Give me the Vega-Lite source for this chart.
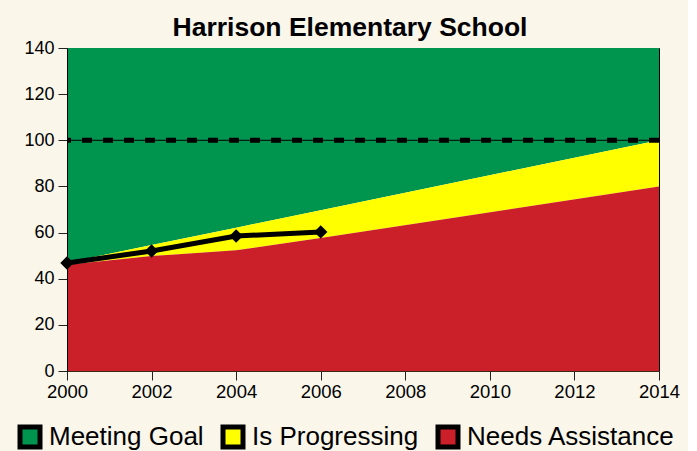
{
  "$schema": "https://vega.github.io/schema/vega-lite/v6.json",
  "width": 592,
  "height": 323,
  "autosize": {"type": "none"},
  "padding": {"left": 67, "top": 48, "right": 29, "bottom": 80},
  "background": "#FAF6EA",
  "title": {
    "text": "Harrison Elementary School",
    "font": "Liberation Sans",
    "fontSize": 26.5,
    "fontWeight": "bold",
    "color": "#000000",
    "anchor": "middle",
    "baseline": "alphabetic",
    "offset": 10,
    "dx": -13,
    "dy": 33
  },
  "datasets": {
    "bands": [
      {"year": 2000, "series": "Meeting Goal", "low": 47, "high": 140},
      {"year": 2002, "series": "Meeting Goal", "low": 54.6, "high": 140},
      {"year": 2004, "series": "Meeting Goal", "low": 62.1, "high": 140},
      {"year": 2006, "series": "Meeting Goal", "low": 69.7, "high": 140},
      {"year": 2014, "series": "Meeting Goal", "low": 100, "high": 140},
      {"year": 2000, "series": "Is Progressing", "low": 46, "high": 47},
      {"year": 2002, "series": "Is Progressing", "low": 49.8, "high": 54.6},
      {"year": 2004, "series": "Is Progressing", "low": 52.3, "high": 62.1},
      {"year": 2006, "series": "Is Progressing", "low": 57.6, "high": 69.7},
      {"year": 2014, "series": "Is Progressing", "low": 80, "high": 100},
      {"year": 2000, "series": "Needs Assistance", "low": 0, "high": 46},
      {"year": 2002, "series": "Needs Assistance", "low": 0, "high": 49.8},
      {"year": 2004, "series": "Needs Assistance", "low": 0, "high": 52.3},
      {"year": 2006, "series": "Needs Assistance", "low": 0, "high": 57.6},
      {"year": 2014, "series": "Needs Assistance", "low": 0, "high": 80}
    ],
    "scores": [
      {"year": 2000, "score": 46.8},
      {"year": 2002, "score": 52},
      {"year": 2004, "score": 58.5},
      {"year": 2006, "score": 60.3}
    ],
    "goal": [{"target": 100}]
  },
  "layer": [
    {
      "data": {"name": "bands"},
      "mark": {"type": "area", "interpolate": "linear", "opacity": 1},
      "encoding": {
        "x": {
          "field": "year",
          "type": "quantitative",
          "scale": {"domain": [2000, 2014], "nice": false, "zero": false},
          "axis": {
            "values": [2000, 2002, 2004, 2006, 2008, 2010, 2012, 2014],
            "format": "d",
            "title": null,
            "grid": false,
            "tickSize": 9,
            "tickColor": "#222222",
            "domainColor": "#3a2a1a",
            "labelFont": "Liberation Sans",
            "labelFontSize": 18.5,
            "labelColor": "#000000",
            "labelPadding": 2,
            "labelFlush": false,
            "zindex": 1
          }
        },
        "y": {
          "field": "low",
          "type": "quantitative",
          "stack": null,
          "scale": {"domain": [0, 140], "nice": false},
          "axis": {
            "values": [0, 20, 40, 60, 80, 100, 120, 140],
            "title": null,
            "grid": false,
            "tickSize": 9,
            "tickColor": "#222222",
            "domainColor": "#000000",
            "labelFont": "Liberation Sans",
            "labelFontSize": 18,
            "labelColor": "#000000",
            "labelPadding": 4,
            "zindex": 1
          }
        },
        "y2": {"field": "high"},
        "color": {
          "field": "series",
          "type": "nominal",
          "scale": {
            "domain": ["Meeting Goal", "Is Progressing", "Needs Assistance"],
            "range": ["#00954F", "#FFFF00", "#CB1F29"]
          },
          "legend": {
            "title": null,
            "orient": "none",
            "direction": "horizontal",
            "legendX": -50,
            "legendY": 376,
            "symbolType": "square",
            "symbolSize": 400,
            "symbolStrokeWidth": 5,
            "symbolStrokeColor": "#000000",
            "symbolOpacity": 1,
            "labelFont": "Liberation Sans",
            "labelFontSize": 26,
            "labelColor": "#000000",
            "labelLimit": 400,
            "labelOffset": 6,
            "columnPadding": 9
          }
        }
      }
    },
    {
      "data": {"name": "goal"},
      "mark": {"type": "rule", "color": "#000000", "strokeWidth": 1},
      "encoding": {"y": {"field": "target", "type": "quantitative"}}
    },
    {
      "data": {"name": "goal"},
      "mark": {"type": "rule", "color": "#000000", "strokeWidth": 5, "strokeDash": [10, 11]},
      "encoding": {"y": {"field": "target", "type": "quantitative"}}
    },
    {
      "data": {"name": "scores"},
      "mark": {"type": "line", "color": "#000000", "strokeWidth": 5, "point": {"shape": "diamond", "size": 180, "color": "#000000", "filled": true, "opacity": 1}},
      "encoding": {
        "x": {"field": "year", "type": "quantitative"},
        "y": {"field": "score", "type": "quantitative"}
      }
    }
  ],
  "config": {
    "view": {"stroke": "#000000", "strokeWidth": 1}
  }
}
